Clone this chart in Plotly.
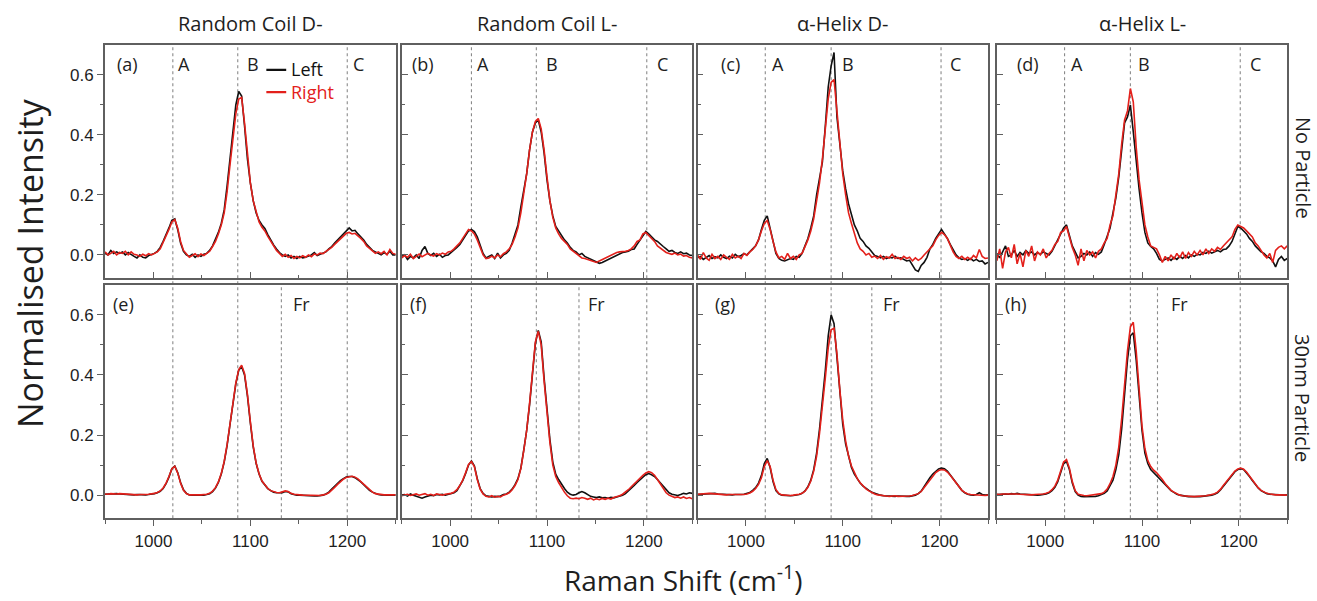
import numpy as np
import plotly.graph_objects as go

# Raman shift sampling grid (cm^-1), 3 cm^-1 step
raman_shift = np.arange(950, 1251, 3)

# ---- No particle: Random Coil D- (a)
rcD_none_left = [
    0.005, 0.0, 0.015, 0.005, 0.01, 0.005, 0.01, 0.0, 0.008, 0.0,
    -0.005, -0.01, 0.0, -0.008, -0.01, -0.002, 0.002, 0.005, 0.012, 0.025,
    0.045, 0.065, 0.09, 0.115, 0.12, 0.085, 0.04, 0.012, 0.0, -0.005,
    0.002, -0.008, 0.0, -0.005, 0.002, 0.005, 0.015, 0.03, 0.05, 0.075,
    0.105, 0.15, 0.23, 0.32, 0.41, 0.5, 0.545, 0.53, 0.43, 0.32,
    0.24, 0.18, 0.14, 0.115, 0.1, 0.088, 0.068, 0.05, 0.033, 0.02,
    0.008, 0.0, -0.005, 0.0, -0.01, -0.005, -0.012, -0.005, -0.01, -0.008,
    -0.005, 0.0, 0.008, -0.002, 0.002, 0.005, 0.01, 0.02, 0.028, 0.04,
    0.05, 0.058, 0.068, 0.08, 0.09, 0.08, 0.082, 0.07, 0.06, 0.05,
    0.035, 0.025, 0.015, 0.01, 0.005, 0.0, 0.008, 0.002, 0.012, 0.0,
    0.0]
rcD_none_right = [
    0.01, 0.0, 0.005, 0.012, 0.0, 0.008, 0.005, 0.012, 0.0, 0.01,
    0.002, 0.0, -0.005, 0.002, -0.003, 0.004, 0.0, 0.006, 0.01, 0.02,
    0.04, 0.06, 0.085, 0.11, 0.118, 0.09, 0.045, 0.015, 0.002, -0.008,
    -0.002, 0.004, -0.006, 0.003, -0.002, 0.006, 0.012, 0.028, 0.045, 0.07,
    0.1, 0.14, 0.21, 0.3, 0.39, 0.47, 0.52, 0.525, 0.44, 0.33,
    0.24, 0.18, 0.14, 0.11, 0.092, 0.08, 0.062, 0.045, 0.03, 0.015,
    0.005, -0.005, 0.002, -0.008, -0.002, -0.012, -0.005, -0.01, -0.003, -0.008,
    0.0, -0.006, 0.003, 0.0, 0.006, 0.004, 0.012, 0.018, 0.025, 0.035,
    0.045, 0.055, 0.065, 0.072, 0.075, 0.07, 0.072, 0.065, 0.055, 0.045,
    0.03, 0.022, 0.012, 0.005, 0.01, 0.004, 0.012, 0.0, 0.018, 0.005,
    0.002]

# ---- No particle: Random Coil L- (b)
rcL_none_left = [
    -0.005, 0.0, -0.015, -0.005, -0.01, 0.0, -0.012, 0.015, 0.028, 0.005,
    -0.002, 0.005, -0.005, 0.002, -0.008, -0.002, 0.0, 0.008, 0.015, 0.025,
    0.035, 0.05, 0.065, 0.08, 0.085, 0.078, 0.06, 0.03, 0.005, -0.01,
    -0.005, 0.0, -0.012, 0.006, -0.01, 0.0, 0.005, 0.015, 0.04, 0.07,
    0.1, 0.16, 0.21, 0.27, 0.35, 0.41, 0.44, 0.45, 0.41, 0.34,
    0.25, 0.18, 0.13, 0.095, 0.08, 0.065, 0.05, 0.04, 0.025, 0.015,
    0.01, 0.0, 0.005, -0.005, -0.01, -0.015, -0.02, -0.025, -0.028, -0.025,
    -0.02, -0.015, -0.012, -0.005, -0.002, 0.005, 0.008, 0.01, 0.012, 0.018,
    0.02, 0.035, 0.05, 0.065, 0.078, 0.07, 0.06, 0.05, 0.045, 0.035,
    0.028, 0.02, 0.012, 0.015, 0.008, 0.005, 0.01, 0.004, 0.006, 0.0,
    -0.002]
rcL_none_right = [
    -0.01, -0.002, -0.008, 0.002, -0.012, -0.005, 0.003, -0.006, 0.0, 0.005,
    0.0, -0.004, 0.004, 0.0, 0.006, 0.002, 0.01, 0.012, 0.02, 0.03,
    0.04, 0.055, 0.068, 0.085, 0.08, 0.07, 0.05, 0.025, 0.0, -0.012,
    -0.01, -0.004, -0.01, 0.0, -0.006, 0.004, 0.01, 0.02, 0.035, 0.06,
    0.09, 0.14, 0.2, 0.27, 0.35, 0.41, 0.445, 0.455, 0.42, 0.35,
    0.26, 0.18, 0.125, 0.09, 0.07, 0.055, 0.045, 0.035, 0.02, 0.012,
    0.005, -0.005, -0.01, -0.012, -0.015, -0.02, -0.022, -0.025, -0.02, -0.015,
    -0.01, -0.005, 0.0, 0.005, 0.008, 0.01, 0.01, 0.012, 0.015, 0.02,
    0.03, 0.045, 0.05, 0.07, 0.075, 0.065, 0.055, 0.045, 0.03, 0.022,
    0.015, 0.008, 0.005, 0.002, 0.006, 0.0, 0.003, -0.004, -0.002, -0.008,
    -0.01]

# ---- No particle: alpha-Helix D- (c)
ahD_none_left = [
    -0.01, -0.005, -0.015, -0.008, -0.002, -0.012, -0.006, -0.01, 0.0, -0.008,
    -0.012, -0.004, -0.01, 0.002, -0.006, -0.002, 0.004, 0.0, 0.012, 0.02,
    0.03, 0.05, 0.085, 0.115, 0.13, 0.09, 0.04, 0.005, -0.012, -0.018,
    -0.02, -0.015, -0.012, -0.015, -0.005, -0.008, 0.005, 0.03, 0.055, 0.09,
    0.13, 0.2, 0.26, 0.31, 0.43, 0.56, 0.63, 0.675, 0.46, 0.36,
    0.28, 0.22, 0.17, 0.135, 0.1, 0.08, 0.055, 0.045, 0.03, 0.022,
    0.01, -0.002, -0.005, -0.01, -0.005, -0.012, -0.008, -0.01, -0.004, -0.012,
    -0.01, -0.015, -0.02, -0.018, -0.035, -0.05, -0.055, -0.035, -0.025, -0.008,
    0.02, 0.035, 0.055, 0.07, 0.085, 0.07, 0.055, 0.035, 0.015, 0.0,
    -0.01, -0.015, -0.012, -0.018, -0.012, -0.02, -0.015, -0.022, -0.02, -0.03,
    -0.025]
ahD_none_right = [
    0.0, -0.015, 0.008, -0.01, -0.018, 0.002, -0.012, -0.005, -0.015, 0.0,
    -0.008, -0.015, 0.002, -0.01, -0.004, -0.012, 0.005, -0.002, 0.01, 0.018,
    0.03, 0.05, 0.08, 0.105, 0.115, 0.085, 0.045, 0.01, -0.01, -0.005,
    -0.015, 0.005, -0.012, -0.005, -0.015, 0.0, 0.005, 0.025, 0.05, 0.08,
    0.12, 0.18, 0.24, 0.32, 0.42, 0.52, 0.575, 0.585, 0.48, 0.36,
    0.27, 0.2, 0.14, 0.105, 0.07, 0.04, 0.02, 0.012, 0.0, 0.005,
    -0.008, -0.004, -0.012, -0.002, -0.015, -0.006, -0.01, 0.002, -0.012, -0.008,
    -0.015, -0.005, -0.012, -0.008, -0.02, -0.01, -0.018, -0.012, 0.0, 0.01,
    0.02, 0.03, 0.05, 0.065, 0.075, 0.068, 0.055, 0.03, 0.01, -0.005,
    -0.012, -0.005, -0.015, -0.008, -0.015, -0.002, -0.01, 0.018, -0.005, -0.012,
    -0.01]

# ---- No particle: alpha-Helix L- (d)
ahL_none_left = [
    0.005, -0.01, 0.01, 0.03, -0.005, 0.0, 0.015, -0.005, 0.008, 0.0,
    0.015, 0.005, 0.01, 0.0, 0.008, 0.002, 0.01, 0.006, 0.0, 0.012,
    0.03, 0.05, 0.07, 0.09, 0.1, 0.065, 0.03, 0.01, -0.01, -0.005,
    0.005, 0.0, 0.01, -0.005, 0.008, 0.002, 0.01, 0.035, 0.06, 0.09,
    0.14, 0.19, 0.26, 0.36, 0.44, 0.46, 0.5, 0.41, 0.31, 0.22,
    0.14, 0.075, 0.04, 0.028, 0.02, 0.005, -0.015, -0.02, -0.015, -0.01,
    -0.018, -0.008, -0.015, -0.005, -0.012, -0.002, -0.01, 0.0, -0.005, 0.002,
    0.0, 0.008, 0.005, 0.012, 0.006, 0.01, 0.015, 0.01, 0.018, 0.02,
    0.03, 0.045, 0.07, 0.095, 0.09, 0.08, 0.07, 0.055, 0.045, 0.03,
    0.02, 0.01, 0.005, -0.005, -0.01, -0.02, -0.04, -0.015, -0.005, -0.018,
    -0.012]
ahL_none_right = [
    -0.02, 0.02, -0.045, 0.01, 0.025, -0.01, 0.035, -0.03, 0.005, -0.04,
    0.015, -0.005, 0.03, -0.02, 0.01, 0.0, 0.02, -0.01, 0.005, 0.015,
    0.035, 0.045, 0.075, 0.08, 0.095, 0.06, 0.025, 0.0, -0.035, 0.02,
    -0.02, 0.015, 0.0, 0.01, -0.01, 0.012, 0.02, 0.04, 0.055, 0.1,
    0.13, 0.2, 0.27, 0.37, 0.45, 0.48, 0.555, 0.51, 0.36, 0.25,
    0.17, 0.1, 0.06, 0.03, 0.025, 0.02, 0.0, -0.025, -0.005, -0.02,
    0.0, -0.015, 0.005, -0.01, 0.01, -0.012, 0.008, -0.005, 0.012, 0.0,
    0.015, 0.0, 0.02, 0.005, 0.02, 0.012, 0.025, 0.018, 0.03, 0.04,
    0.05, 0.06, 0.085, 0.1, 0.095, 0.09, 0.08, 0.07, 0.06, 0.04,
    0.03, 0.015, 0.0, -0.01, 0.005, -0.025, 0.015, 0.025, 0.03, 0.02,
    0.03]

# ---- 30nm particle: Random Coil D- (e)
rcD_np_left = [
    0.003, 0.004, 0.003, 0.004, 0.005, 0.004, 0.003, 0.004, 0.003, 0.002,
    0.001, 0.002, 0.001, 0.0, 0.001, 0.002, 0.003, 0.005, 0.008, 0.013,
    0.022, 0.038, 0.06, 0.088, 0.097, 0.075, 0.042, 0.018, 0.006, 0.001,
    0.0, 0.0, -0.001, 0.0, 0.0, 0.002, 0.005, 0.012, 0.024, 0.042,
    0.07, 0.11, 0.165, 0.235, 0.31, 0.37, 0.415, 0.428, 0.4, 0.33,
    0.24, 0.16, 0.105, 0.07, 0.046, 0.032, 0.022, 0.015, 0.01, 0.008,
    0.007, 0.008, 0.012, 0.011, 0.005, 0.002, 0.0, 0.0, -0.001, -0.001,
    -0.002, -0.002, -0.003, -0.003, -0.002, 0.0, 0.004, 0.01, 0.02, 0.03,
    0.04, 0.048, 0.055, 0.06, 0.062, 0.062, 0.058, 0.052, 0.044, 0.035,
    0.025, 0.016, 0.01, 0.005, 0.002, 0.001, 0.0, 0.0, 0.001, 0.0,
    0.0]
rcD_np_right = [
    0.004, 0.003, 0.005, 0.004, 0.004, 0.005, 0.004, 0.003, 0.004, 0.003,
    0.002, 0.001, 0.002, 0.001, 0.002, 0.003, 0.004, 0.006, 0.009, 0.014,
    0.024, 0.04, 0.062, 0.088, 0.096, 0.074, 0.04, 0.016, 0.005, 0.001,
    0.001, 0.0, 0.001, 0.001, 0.001, 0.003, 0.006, 0.013, 0.025, 0.044,
    0.072, 0.112, 0.168, 0.238, 0.312, 0.373, 0.418, 0.432, 0.405, 0.335,
    0.245, 0.163, 0.107, 0.071, 0.047, 0.033, 0.022, 0.015, 0.011, 0.009,
    0.008, 0.01, 0.014, 0.012, 0.006, 0.003, 0.001, 0.001, 0.0, 0.0,
    0.0, -0.001, -0.001, -0.002, -0.001, 0.001, 0.003, 0.008, 0.016, 0.026,
    0.036, 0.045, 0.053, 0.059, 0.062, 0.063, 0.06, 0.054, 0.045, 0.036,
    0.026, 0.017, 0.01, 0.005, 0.003, 0.002, 0.001, 0.001, 0.002, 0.001,
    0.001]

# ---- 30nm particle: Random Coil L- (f)
rcL_np_left = [
    0.0, 0.002, -0.003, 0.004, 0.0, -0.004, -0.008, -0.01, -0.006, -0.003,
    0.0, -0.002, 0.002, 0.001, 0.003, 0.0, 0.002, 0.004, 0.008, 0.015,
    0.03, 0.048, 0.072, 0.1, 0.114, 0.098, 0.055, 0.022, 0.006, -0.002,
    -0.004, -0.006, -0.004, -0.005, -0.003, 0.002, 0.004, 0.01, 0.02, 0.035,
    0.055, 0.09, 0.15, 0.215, 0.3, 0.41, 0.505, 0.548, 0.51, 0.39,
    0.28, 0.185, 0.11, 0.07, 0.052, 0.036, 0.022, 0.01, 0.003, 0.0,
    0.002, 0.008, 0.012, 0.008, 0.002, -0.004, -0.006, -0.008, -0.006, -0.009,
    -0.008, -0.01, -0.007, -0.009, -0.006, -0.004, 0.0, 0.005, 0.013, 0.022,
    0.032, 0.042, 0.052, 0.06, 0.068, 0.072, 0.068, 0.062, 0.052, 0.04,
    0.028, 0.016, 0.008, 0.003, 0.001, -0.001, 0.002, 0.006, 0.004, 0.008,
    0.006]
rcL_np_right = [
    -0.002, 0.001, 0.003, -0.001, 0.002, 0.004, 0.0, 0.002, 0.005, 0.0,
    0.003, -0.001, 0.004, 0.002, 0.0, 0.003, 0.004, 0.006, 0.01, 0.018,
    0.032, 0.05, 0.075, 0.102, 0.112, 0.095, 0.052, 0.02, 0.004, -0.004,
    -0.006, -0.002, -0.007, -0.004, -0.006, 0.0, 0.003, 0.008, 0.018, 0.032,
    0.052, 0.088, 0.148, 0.215, 0.305, 0.415, 0.51, 0.545, 0.5, 0.38,
    0.27, 0.175, 0.1, 0.062, 0.042, 0.025, 0.01, -0.002, -0.01, -0.012,
    -0.01, -0.012, -0.008, -0.01, -0.014, -0.01, -0.016, -0.012, -0.015, -0.011,
    -0.014, -0.01, -0.013, -0.008, -0.006, -0.002, 0.003, 0.01, 0.018, 0.028,
    0.038, 0.048, 0.058, 0.066, 0.074, 0.078, 0.075, 0.066, 0.052, 0.036,
    0.02, 0.008, 0.0, -0.005, -0.008, -0.006, -0.01, -0.006, -0.011, -0.008,
    -0.012]

# ---- 30nm particle: alpha-Helix D- (g)
ahD_np_left = [
    0.002, 0.003, 0.004, 0.003, 0.005, 0.007, 0.006, 0.004, 0.003, 0.003,
    0.002, 0.002, 0.001, 0.002, 0.001, 0.002, 0.003, 0.005, 0.009, 0.016,
    0.025, 0.04, 0.065, 0.105, 0.122, 0.092, 0.045, 0.015, 0.004, 0.0,
    -0.001, -0.002, -0.002, -0.001, 0.0, 0.002, 0.006, 0.014, 0.028, 0.05,
    0.085, 0.14, 0.22, 0.31, 0.415, 0.53, 0.6, 0.57, 0.46, 0.33,
    0.235, 0.17, 0.125, 0.092, 0.07, 0.053, 0.04, 0.03, 0.022, 0.016,
    0.01, 0.006, 0.003, 0.0, -0.002, -0.003, -0.002, -0.003, -0.004, -0.003,
    -0.004, -0.005, -0.004, -0.004, -0.002, 0.0, 0.005, 0.013, 0.028, 0.045,
    0.058, 0.07, 0.08, 0.087, 0.09, 0.088, 0.08, 0.068, 0.055, 0.042,
    0.028, 0.016, 0.008, 0.003, 0.001, 0.0, 0.002, 0.008, 0.002, 0.0,
    0.001]
ahD_np_right = [
    0.003, 0.004, 0.003, 0.005, 0.006, 0.005, 0.004, 0.003, 0.004, 0.002,
    0.001, 0.002, 0.002, 0.001, 0.002, 0.001, 0.002, 0.004, 0.007, 0.013,
    0.022, 0.036, 0.058, 0.095, 0.115, 0.095, 0.05, 0.018, 0.006, 0.001,
    0.0, -0.001, -0.001, 0.0, 0.001, 0.003, 0.006, 0.013, 0.026, 0.047,
    0.08, 0.13, 0.205, 0.29, 0.39, 0.49, 0.55, 0.555, 0.47, 0.35,
    0.25, 0.18, 0.13, 0.097, 0.073, 0.055, 0.041, 0.03, 0.021, 0.014,
    0.008, 0.004, 0.001, -0.001, -0.002, -0.003, -0.004, -0.003, -0.002, -0.004,
    -0.004, -0.003, -0.004, -0.003, -0.001, 0.001, 0.005, 0.012, 0.025, 0.04,
    0.052, 0.064, 0.075, 0.082, 0.085, 0.084, 0.077, 0.066, 0.054, 0.04,
    0.027, 0.016, 0.009, 0.004, 0.002, 0.001, 0.0, 0.001, 0.0, -0.001,
    0.0]

# ---- 30nm particle: alpha-Helix L- (h)
ahL_np_left = [
    0.002, 0.003, 0.003, 0.004, 0.003, 0.005, 0.004, 0.006, 0.004, 0.003,
    0.002, 0.001, 0.002, 0.001, 0.0, 0.001, 0.002, 0.004, 0.008, 0.015,
    0.026, 0.045, 0.075, 0.105, 0.112, 0.085, 0.04, 0.012, 0.0, -0.004,
    -0.005, -0.005, -0.006, -0.005, -0.004, -0.002, 0.001, 0.006, 0.014, 0.03,
    0.05, 0.085, 0.135, 0.22, 0.33, 0.45, 0.53, 0.54, 0.45, 0.32,
    0.215, 0.14, 0.105, 0.085, 0.075, 0.063, 0.054, 0.045, 0.034, 0.024,
    0.015, 0.009, 0.003, 0.0, -0.002, -0.004, -0.005, -0.005, -0.006, -0.005,
    -0.005, -0.004, -0.003, -0.002, 0.0, 0.003, 0.008, 0.017, 0.03, 0.043,
    0.055, 0.068, 0.078, 0.085, 0.088, 0.085, 0.075, 0.062, 0.049, 0.036,
    0.024, 0.015, 0.009, 0.005, 0.003, 0.002, 0.001, 0.001, 0.0, 0.0,
    0.001]
ahL_np_right = [
    0.003, 0.002, 0.004, 0.003, 0.004, 0.004, 0.005, 0.004, 0.003, 0.002,
    0.001, 0.002, 0.001, 0.002, 0.002, 0.003, 0.004, 0.006, 0.01, 0.018,
    0.03, 0.05, 0.08, 0.11, 0.118, 0.09, 0.045, 0.015, 0.003, 0.0,
    -0.001, -0.002, -0.001, 0.0, 0.001, 0.002, 0.005, 0.01, 0.02, 0.038,
    0.062, 0.1, 0.16, 0.255, 0.37, 0.48, 0.56, 0.575, 0.48, 0.34,
    0.23, 0.155, 0.115, 0.095, 0.083, 0.075, 0.065, 0.052, 0.038, 0.026,
    0.016, 0.01, 0.004, 0.0, -0.002, -0.003, -0.004, -0.004, -0.005, -0.004,
    -0.004, -0.003, -0.002, 0.0, 0.002, 0.005, 0.01, 0.019, 0.032, 0.045,
    0.057, 0.07, 0.08, 0.087, 0.09, 0.086, 0.077, 0.064, 0.05, 0.037,
    0.025, 0.016, 0.01, 0.006, 0.004, 0.002, 0.001, 0.001, 0.001, 0.0,
    0.0]

column_titles = ["Random Coil D-", "Random Coil L-", "α-Helix D-", "α-Helix L-"]
row_titles = ["No Particle", "30nm Particle"]
panel_letters = ["(a)", "(b)", "(c)", "(d)", "(e)", "(f)", "(g)", "(h)"]

# band positions per column (cm^-1)
band_A = [1020, 1022, 1020, 1020]
band_B = [1087, 1089, 1088, 1088]
band_C = [1200, 1203, 1201.5, 1201.5]
band_Fr = [1132, 1133, 1130, 1116]
# where the band letters sit
label_A = [1023, 1026, 1025, 1025]
label_B = [1094, 1097, 1097, 1094]
label_C = [1204, 1211, 1209, 1210]
label_Fr = [1142, 1140, 1139, 1128]
letter_x = [960, 959, 972, 969, 956, 956, 966, 956]

x_tick_vals = [1000, 1100, 1200]
y_tick_vals = [0.0, 0.2, 0.4, 0.6]

spectra = [
    [(rcD_none_left, rcD_none_right), (rcL_none_left, rcL_none_right),
     (ahD_none_left, ahD_none_right), (ahL_none_left, ahL_none_right)],
    [(rcD_np_left, rcD_np_right), (rcL_np_left, rcL_np_right),
     (ahD_np_left, ahD_np_right), (ahL_np_left, ahL_np_right)],
]
for row in spectra:
    for pair in row:
        for s in pair:
            assert len(s) == len(raman_shift)

W, H = 1317, 601
COL_PX = [(105, 395.7), (401.7, 692.3), (697.5, 988), (996.8, 1287.2)]
ROW_PX = [(45, 278), (284.7, 518.3)]


def px_x(p):
    return p / W


def px_y(p):
    return 1 - p / H


BLACK = "#111111"
RED = "#E3201B"
FRAME = "#5f5f5f"
DASH = "#8a8a8a"
TXT = "#1e1e1e"
SANS = "Open Sans, sans-serif"
TICK_FONT = dict(family="Liberation Sans, Arial, sans-serif", size=17, color=TXT)
LABEL_FONT = dict(family=SANS, size=18, color=TXT)

fig = go.Figure()
layout = dict(
    width=W, height=H,
    margin=dict(l=0, r=0, t=0, b=0),
    paper_bgcolor="white", plot_bgcolor="white",
    showlegend=False,
)
annotations = []
shapes = []

for r in range(2):
    for c in range(4):
        k = r * 4 + c + 1
        xa = "x" if k == 1 else f"x{k}"
        ya = "y" if k == 1 else f"y{k}"
        left, right = spectra[r][c]
        fig.add_trace(go.Scatter(x=raman_shift, y=left, mode="lines", name="Left",
                                 line=dict(color=BLACK, width=1.6), xaxis=xa, yaxis=ya))
        fig.add_trace(go.Scatter(x=raman_shift, y=right, mode="lines", name="Right",
                                 line=dict(color=RED, width=1.6), xaxis=xa, yaxis=ya))

        bottom = r == 1
        first = c == 0
        x_tick_dir = "outside" if bottom else "inside"
        y_tick_dir = "outside" if first else "inside"
        layout["xaxis" if k == 1 else f"xaxis{k}"] = dict(
            domain=[px_x(COL_PX[c][0]), px_x(COL_PX[c][1])],
            anchor=ya, range=[950, 1250],
            showline=True, mirror=True, linecolor=FRAME, linewidth=1.8,
            ticks=x_tick_dir, ticklen=6, tickwidth=1.2, tickcolor=FRAME,
            tickvals=x_tick_vals, showticklabels=bottom, tickfont=TICK_FONT,
            minor=dict(tickvals=[950, 1050, 1150, 1250], ticks=x_tick_dir,
                       ticklen=3.5, tickwidth=1.2, tickcolor=FRAME),
            showgrid=False, zeroline=False,
        )
        layout["yaxis" if k == 1 else f"yaxis{k}"] = dict(
            domain=[px_y(ROW_PX[r][1]), px_y(ROW_PX[r][0])],
            anchor=xa, range=[-0.077, 0.70],
            showline=True, mirror=True, linecolor=FRAME, linewidth=1.8,
            ticks=y_tick_dir, ticklen=6, tickwidth=1.2, tickcolor=FRAME,
            tickvals=y_tick_vals, tickformat=".1f",
            showticklabels=first, tickfont=TICK_FONT,
            minor=dict(tickvals=[0.1, 0.3, 0.5], ticks=y_tick_dir,
                       ticklen=3.5, tickwidth=1.2, tickcolor=FRAME),
            showgrid=False, zeroline=False,
        )

        # panel letter
        annotations.append(dict(x=letter_x[k - 1], y=0.635, xref=xa, yref=ya,
                                text=panel_letters[k - 1], showarrow=False,
                                xanchor="left", yanchor="middle", font=LABEL_FONT))
        if r == 0:
            for lx, t in ((label_A[c], "A"), (label_B[c], "B"), (label_C[c], "C")):
                annotations.append(dict(x=lx, y=0.635, xref=xa, yref=ya, text=t,
                                        showarrow=False, xanchor="left",
                                        yanchor="middle", font=LABEL_FONT))
        else:
            annotations.append(dict(x=label_Fr[c], y=0.635, xref=xa, yref=ya, text="Fr",
                                    showarrow=False, xanchor="left", yanchor="middle",
                                    font=LABEL_FONT))
            shapes.append(dict(type="line", xref=xa, yref="paper",
                               x0=band_Fr[c], x1=band_Fr[c],
                               y0=px_y(ROW_PX[1][1]), y1=px_y(ROW_PX[1][0]),
                               line=dict(color=DASH, width=1.1, dash="3px,3px"),
                               layer="below"))

# band lines that run through both rows of a column
for c in range(4):
    xa = "x" if c == 0 else f"x{c + 1}"
    for bx in (band_A[c], band_B[c], band_C[c]):
        shapes.append(dict(type="line", xref=xa, yref="paper", x0=bx, x1=bx,
                           y0=px_y(ROW_PX[1][1]), y1=px_y(ROW_PX[0][0]),
                           line=dict(color=DASH, width=1.1, dash="3px,3px"),
                           layer="below"))
    # column titles
    annotations.append(dict(x=px_x((COL_PX[c][0] + COL_PX[c][1]) / 2), y=px_y(24),
                            xref="paper", yref="paper", text=column_titles[c],
                            showarrow=False, xanchor="center", yanchor="middle",
                            font=dict(family=SANS, size=20, color=TXT)))

# row titles on the right
for r, yc in enumerate((168, 398)):
    annotations.append(dict(x=px_x(1303), y=px_y(yc), xref="paper", yref="paper",
                            text=row_titles[r], textangle=90, showarrow=False,
                            xanchor="center", yanchor="middle",
                            font=dict(family=SANS, size=20, color=TXT)))

# axis titles
annotations.append(dict(x=px_x(30), y=px_y(263), xref="paper", yref="paper",
                        text="Normalised Intensity", textangle=-90, showarrow=False,
                        xanchor="center", yanchor="middle",
                        font=dict(family=SANS, size=34, color=TXT)))
annotations.append(dict(x=px_x(683), y=px_y(578), xref="paper", yref="paper",
                        text="Raman Shift (cm<sup>-1</sup>)", showarrow=False,
                        xanchor="center", yanchor="middle",
                        font=dict(family=SANS, size=28, color=TXT)))

# legend key in panel (a)
for yk, col in ((0.617, BLACK), (0.543, RED)):
    shapes.append(dict(type="line", xref="x", yref="y", x0=1116.5, x1=1137, y0=yk, y1=yk,
                       line=dict(color=col, width=2.4)))
annotations.append(dict(
    x=1140, y=0.58, xref="x", yref="y", showarrow=False,
    xanchor="left", yanchor="middle", align="left",
    text=f"<span style='color:{BLACK}'>Left</span><br>"
         f"<span style='color:{RED}'>Right</span>",
    font=dict(family=SANS, size=18, color=BLACK)))

layout["annotations"] = annotations
layout["shapes"] = shapes
fig.update_layout(**layout)
fig.write_html("out.html")
